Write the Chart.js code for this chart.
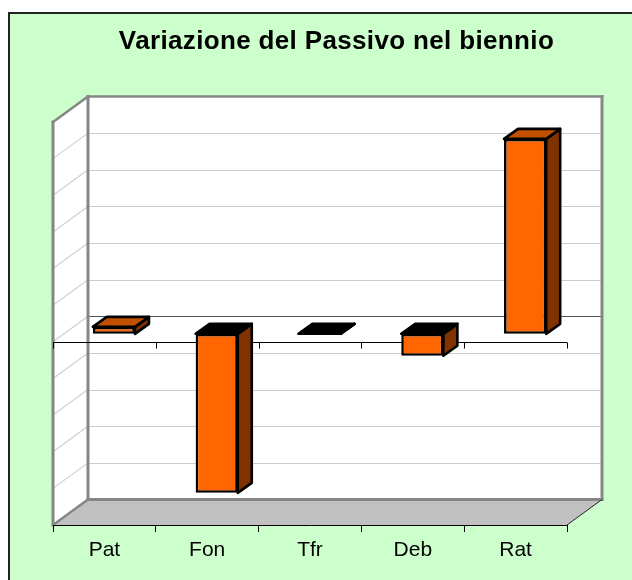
<!DOCTYPE html>
<html>
<head>
<meta charset="utf-8">
<script src="https://cdn.jsdelivr.net/npm/chart.js@4/dist/chart.umd.min.js"></script>
<style>
  html, body { margin: 0; padding: 0; background: #fff; overflow: hidden; }
  #panel { position: absolute; left: 8px; top: 12px; width: 624px; height: 568px; box-sizing: border-box; background: #ccffcc; border-left: 2px solid #222; border-top: 2px solid #222; }
  #chart { position: absolute; left: 0; top: 0; }
</style>
</head>
<body>
<div id="panel"></div>
<canvas id="chart" width="632" height="580"></canvas>
<script>
const titleText = 'Variazione del Passivo nel biennio';
const categories = ['Pat', 'Fon', 'Tfr', 'Deb', 'Rat'];
const values = [0.19, -4.34, 0, -0.6, 5.32];
const yTicks = [-5, -4, -3, -2, -1, 0, 1, 2, 3, 4, 5, 6];

// 3d look: how far back the walls go, where the bars sit, how deep they are
const wallDepth = { x: 35, y: 25.5 };
const barShift = { x: 9.5, y: 8 };
const barDepth = { x: 14, y: 10 };

function poly(ctx, pts, fill, stroke, lw) {
  ctx.beginPath();
  pts.forEach((p, i) => i ? ctx.lineTo(p[0], p[1]) : ctx.moveTo(p[0], p[1]));
  ctx.closePath();
  if (fill) { ctx.fillStyle = fill; ctx.fill(); }
  if (stroke) { ctx.strokeStyle = stroke; ctx.lineWidth = lw; ctx.lineJoin = 'round'; ctx.stroke(); }
}

function line(ctx, x1, y1, x2, y2, color, lw) {
  ctx.beginPath();
  ctx.moveTo(x1, y1);
  ctx.lineTo(x2, y2);
  ctx.strokeStyle = color;
  ctx.lineWidth = lw;
  ctx.stroke();
}

const walls3d = {
  id: 'walls3d',
  beforeDraw(chart) {
    const ctx = chart.ctx;
    const { left, right, top, bottom } = chart.chartArea;
    const y = chart.scales.y;
    const dx = wallDepth.x, dy = wallDepth.y;

    ctx.save();
    // title sits off the canvas centre in the original
    ctx.fillStyle = '#000';
    ctx.font = 'bold 26px "Liberation Sans"';
    ctx.letterSpacing = '0.35px';
    ctx.textAlign = 'center';
    ctx.textBaseline = 'alphabetic';
    ctx.fillText(titleText, 336.5, 49);
    ctx.letterSpacing = '0px';

    // back wall, side wall, floor
    poly(ctx, [[left + dx, top - dy], [right + dx, top - dy], [right + dx, bottom - dy], [left + dx, bottom - dy]], '#fff');
    poly(ctx, [[left, top], [left + dx, top - dy], [left + dx, bottom - dy], [left, bottom]], '#fff');
    poly(ctx, [[left, bottom], [left + dx, bottom - dy], [right + dx, bottom - dy], [right, bottom]], '#c0c0c0');

    // gridlines
    yTicks.forEach(v => {
      const py = y.getPixelForValue(v);
      if (v === yTicks[0] || v === yTicks[yTicks.length - 1]) return;
      line(ctx, left, py, left + dx, py - dy, '#d0d0d0', 1.2);
      const back = Math.round(py - dy) + 0.5;
      line(ctx, left + dx, back, right + dx, back, v === 0 ? '#555' : '#cccccc', v === 0 ? 1 : 1.2);
    });

    // wall edges
    ctx.lineCap = 'square';
    line(ctx, left, bottom, left, top, '#868686', 3);
    line(ctx, left, top, left + dx, top - dy, '#868686', 2.5);
    line(ctx, left + dx, top - dy, right + dx, top - dy, '#868686', 2.5);
    line(ctx, right + dx, top - dy, right + dx, bottom - dy, '#868686', 3);
    line(ctx, left + dx, top - dy, left + dx, bottom - dy, '#868686', 3);
    line(ctx, left + dx, bottom - dy, right + dx, bottom - dy, '#868686', 3);
    line(ctx, left, bottom, left + dx, bottom - dy, '#868686', 2.5);
    ctx.lineCap = 'butt';
    line(ctx, right, bottom, right + dx, bottom - dy, '#222', 1);
    ctx.restore();
  },
  beforeDatasetsDraw(chart) {
    const ctx = chart.ctx;
    const x = chart.scales.x;
    const zero = Math.round(chart.scales.y.getPixelForValue(0)) + 0.5;

    // axis through zero on the front plane, ticks at the category edges
    ctx.save();
    line(ctx, x.left, zero, x.right, zero, '#000', 1);
    for (let i = 0; i <= categories.length; i++) {
      const px = Math.round(x.getPixelForValue(i - 0.5)) + 0.5;
      line(ctx, px, zero, px, zero + 6, '#000', 1);
    }

    // bars are drawn by the library, shifted back from the front plane
    ctx.translate(barShift.x, -barShift.y);
    chart.getDatasetMeta(0).data.forEach((bar, i) => {
      const l = bar.x - bar.width / 2, r = bar.x + bar.width / 2;
      const t = Math.min(bar.y, bar.base), b = Math.max(bar.y, bar.base);
      const dx = barDepth.x, dy = barDepth.y;
      poly(ctx, [[r, t], [r + dx, t - dy], [r + dx, b - dy], [r, b]], '#803300', '#000', 2.6);
      poly(ctx, [[l, t], [l + dx, t - dy], [r + dx, t - dy], [r, t]], values[i] > 0 ? '#c05000' : '#000', '#000', 2.6);
    });
  },
  afterDatasetsDraw(chart) {
    chart.ctx.restore();
  }
};

new Chart(document.getElementById('chart'), {
  type: 'bar',
  data: {
    labels: categories,
    datasets: [{
      data: values,
      backgroundColor: '#ff6600',
      borderColor: '#000',
      borderWidth: 2.6,
      borderSkipped: false,
      barPercentage: 0.41,
      categoryPercentage: 1
    }]
  },
  options: {
    responsive: false,
    animation: false,
    layout: { padding: { left: 53, right: 65, top: 122, bottom: 0 } },
    plugins: { legend: { display: false }, tooltip: { enabled: false } },
    scales: {
      x: {
        position: 'bottom',
        afterFit(s) { s.height = 55; },
        border: { display: true, color: '#000', width: 1 },
        grid: { display: true, offset: true, drawOnChartArea: false, drawTicks: true, tickLength: 7, color: '#000', lineWidth: 1 },
        ticks: { color: '#000', padding: 6, maxRotation: 0, font: { family: '"Liberation Sans"', size: 21 } }
      },
      y: {
        display: false,
        min: yTicks[0],
        max: yTicks[yTicks.length - 1],
        ticks: { stepSize: 1 }
      }
    }
  },
  plugins: [walls3d]
});
</script>
</body>
</html>
